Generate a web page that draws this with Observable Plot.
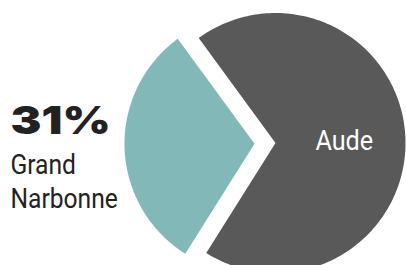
<!DOCTYPE html>
<html>
<head>
<meta charset="utf-8">
<script src="https://cdn.jsdelivr.net/npm/d3@7"></script>
<script src="https://cdn.jsdelivr.net/npm/@observablehq/plot@0.6"></script>
<style>
  html, body { margin: 0; padding: 0; background: #fff; }
  #chart svg { display: block; }
</style>
</head>
<body>
<div id="chart"></div>
<script>
// ---- data ----
const slices = ["Grand Narbonne", "Aude"];
const shares = [31, 69];
const colors = ["#83b8b8", "#595959"];
const pctLabel = ["31%"];
const nameLabel = ["Grand\nNarbonne"];
const insideLabel = ["Aude"];

// ---- geometry (unit radius pie, built from the shares) ----
const R = 130, cx = 275, cy = 142.5, W = 406, H = 265;
const explode = [21 / R, 0];
const tealMid = -Math.PI / 2 - 0.035;
const half = Math.PI * shares[0] / 100;
const pie = d3.pie().sort(null).value(d => d.v)
  .startAngle(tealMid - half).endAngle(tealMid - half + 2 * Math.PI);
const arcs = pie(slices.map((s, i) => ({s, v: shares[i], i})));

const pts = [];
arcs.forEach(a => {
  const i = a.data.i;
  const mid = (a.startAngle + a.endAngle) / 2;
  const ox = explode[i] * Math.sin(mid), oy = explode[i] * Math.cos(mid);
  pts.push({slice: a.data.s, x: ox, y: oy});
  const n = 200;
  for (let k = 0; k <= n; k++) {
    const t = a.startAngle + (a.endAngle - a.startAngle) * k / n;
    pts.push({slice: a.data.s, x: ox + Math.sin(t), y: oy + Math.cos(t)});
  }
  pts.push({slice: a.data.s, x: ox, y: oy});
});

const audeArc = arcs[1];
const audeMid = (audeArc.startAngle + audeArc.endAngle) / 2;
const audeLab = [{t: insideLabel[0], x: 0.53 * Math.sin(audeMid), y: 0.53 * Math.cos(audeMid)}];

const sans = "Roboto, 'DejaVu Sans', sans-serif";

const chart = Plot.plot({
  width: W, height: H, margin: 0,
  x: {domain: [-cx / R, (W - cx) / R], axis: null},
  y: {domain: [-(H - cy) / R, cy / R], axis: null},
  color: {domain: slices, range: colors},
  marks: [
    Plot.line(pts, {x: "x", y: "y", z: "slice", fill: "slice", stroke: "none", curve: "linear"}),
    Plot.text(audeLab, {x: "x", y: "y", text: "t", fill: "white", fontSize: 28,
      fontFamily: sans, textAnchor: "middle"}),
    Plot.text(pctLabel, {frameAnchor: "left", dx: 10, dy: -11.5, text: d => d, fill: "#222",
      fontSize: 38.5, fontWeight: 900, fontFamily: "Inter, 'DejaVu Sans', sans-serif", textAnchor: "start"}),
    Plot.text(nameLabel, {frameAnchor: "left", dx: 10, dy: 47.5, text: d => d, fill: "#222",
      fontSize: 28, lineHeight: 34 / 28, fontFamily: sans, textAnchor: "start"})
  ]
});
document.getElementById("chart").appendChild(chart);

// horizontal scaling of the label groups (condensed / extended type look)
const svgNS = "http://www.w3.org/2000/svg";
function stretch(g, ax, s) {
  const w = document.createElementNS(svgNS, "g");
  g.parentNode.insertBefore(w, g);
  w.appendChild(g);
  w.setAttribute("transform", `translate(${ax},0) scale(${s},1) translate(${-ax},0)`);
}
const textGroups = chart.querySelectorAll('g[aria-label="text"]');
const audePx = chart.scale("x").apply(audeLab[0].x);
stretch(textGroups[0], audePx, 0.9);
stretch(textGroups[1], 10, 1.2);
stretch(textGroups[2], 10, 0.88);
</script>
</body>
</html>
